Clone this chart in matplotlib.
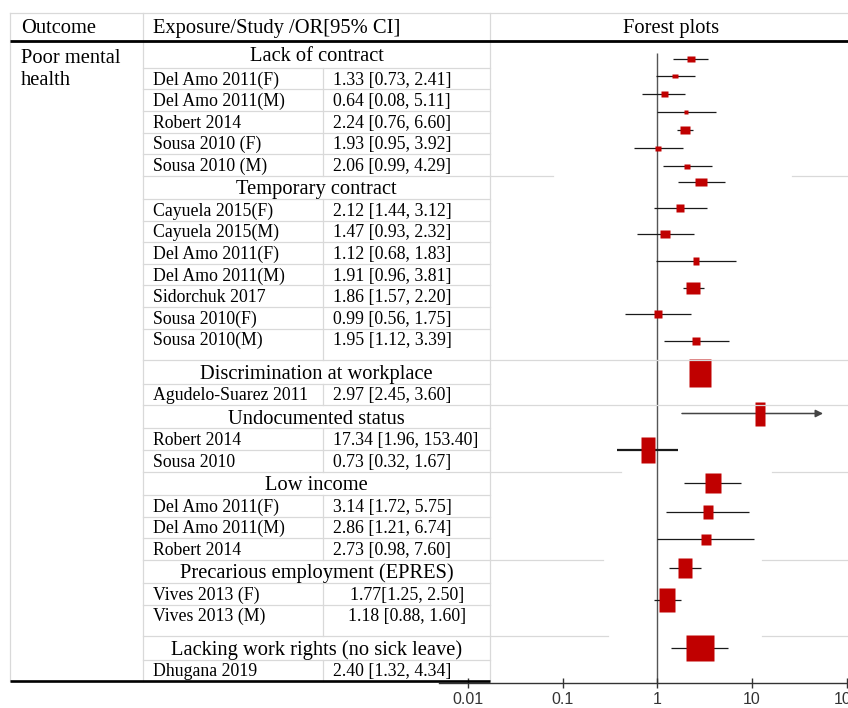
import matplotlib.pyplot as plt

plt.rcParams['font.family'] = ['Liberation Serif', 'DejaVu Serif']

W, H = 848, 708

# table content
groups = ["Lack of contract", "Temporary contract", "Discrimination at workplace",
          "Undocumented status", "Low income", "Precarious employment (EPRES)",
          "Lacking work rights (no sick leave)"]
studies = [
    ["Del Amo 2011(F)", "Del Amo 2011(M)", "Robert 2014", "Sousa 2010 (F)", "Sousa 2010 (M)"],
    ["Cayuela 2015(F)", "Cayuela 2015(M)", "Del Amo 2011(F)", "Del Amo 2011(M)",
     "Sidorchuk 2017", "Sousa 2010(F)", "Sousa 2010(M)"],
    ["Agudelo-Suarez 2011"],
    ["Robert 2014", "Sousa 2010"],
    ["Del Amo 2011(F)", "Del Amo 2011(M)", "Robert 2014"],
    ["Vives 2013 (F)", "Vives 2013 (M)"],
    ["Dhugana 2019"],
]
or_ci = [
    ["1.33 [0.73, 2.41]", "0.64 [0.08, 5.11]", "2.24 [0.76, 6.60]", "1.93 [0.95, 3.92]", "2.06 [0.99, 4.29]"],
    ["2.12 [1.44, 3.12]", "1.47 [0.93, 2.32]", "1.12 [0.68, 1.83]", "1.91 [0.96, 3.81]",
     "1.86 [1.57, 2.20]", "0.99 [0.56, 1.75]", "1.95 [1.12, 3.39]"],
    ["2.97 [2.45, 3.60]"],
    ["17.34 [1.96, 153.40]", "0.73 [0.32, 1.67]"],
    ["3.14 [1.72, 5.75]", "2.86 [1.21, 6.74]", "2.73 [0.98, 7.60]"],
    ["1.77[1.25, 2.50]", "1.18 [0.88, 1.60]"],
    ["2.40 [1.32, 4.34]"],
]

# forest plot (pasted figure) values
forest_y = [59, 76, 94, 112, 130, 148, 166, 182, 208, 234, 261, 287.7, 314, 341,
            373, 413.5, 449.5, 483, 512, 539, 568, 600, 648]
est = [2.25, 1.54, 1.17, 2.01, 1.95, 1.02, 2.06, 2.89, 1.74, 1.21, 2.54, 2.38, 1.02, 2.56,
       2.82, 12.1, 0.79, 3.85, 3.41, 3.27, 1.95, 1.26, 2.80]
lo = [1.47, 0.96, 0.69, 0.99, 1.61, 0.57, 1.14, 1.65, 0.92, 0.61, 0.97, 1.87, 0.46, 1.18,
      2.45, 1.82, 0.375, 1.91, 1.24, 0.99, 1.33, 0.92, 1.40]
hi = [3.41, 2.50, 1.96, 4.17, 2.36, 1.87, 3.78, 5.15, 3.32, 2.44, 6.73, 3.09, 2.25, 5.71,
      3.60, 56.2, 1.65, 7.65, 9.29, 10.5, 2.87, 1.77, 5.62]
box_w = [8.7, 5.7, 7, 5, 10.7, 6, 6, 11.7, 8.3, 9.7, 6.7, 14.7, 8.3, 8,
         22, 10.7, 13.3, 17, 11, 10, 15, 15.7, 28]
box_h = [6.3, 4.7, 5.3, 5, 9, 5, 5, 8, 8, 8.3, 7.7, 13, 7.7, 7.7,
         28, 23.3, 26.7, 20, 14.7, 11, 20, 24, 26.7]
arrow_right = [i == 15 for i in range(len(est))]
ci_lw = [1.6 if i == 16 else 0.9 for i in range(len(est))]

xticks = [0.01, 0.1, 1, 10, 100]
xtick_labels = ["0.01", "0.1", "1", "10", "100"]

GRID = '#d9d9d9'
RED = '#c00000'

fig = plt.figure(figsize=(W / 100, H / 100), dpi=100)

# forest axes (log scale), drawn first so the table lines sit on top
ax = fig.add_axes([439.4 / W, 0, (W - 439.4) / W, 1])
ax.set_xscale('log')
ax.set_xlim(0.005, 103)
ax.set_ylim(H, 0)
ax.patch.set_visible(False)
for s in ['top', 'left', 'right']:
    ax.spines[s].set_visible(False)
ax.spines['bottom'].set_position(('data', 682.7))
ax.spines['bottom'].set_color('#333333')
ax.spines['bottom'].set_linewidth(1.0)
ax.yaxis.set_visible(False)
ax.set_xticks(xticks, labels=xtick_labels)
ax.minorticks_off()
ax.tick_params(axis='x', direction='inout', length=7, width=1, color='#333333',
               labelsize=11.5, labelcolor='#333333', pad=3.5)
for lab in ax.get_xticklabels():
    lab.set_family(['Liberation Sans', 'DejaVu Sans'])

ax.vlines(1, min(forest_y) - 6.5, 682.7, color='#555555', lw=1.0, zorder=1)

for i in range(len(est)):
    y = forest_y[i]
    if arrow_right[i]:
        ax.annotate('', xy=(hi[i], y), xytext=(lo[i], y),
                    arrowprops=dict(arrowstyle='-|>', color='#444444', lw=1.1,
                                    mutation_scale=11, shrinkA=0, shrinkB=0))
    else:
        ax.hlines(y, lo[i], hi[i], color='#1a1a1a', lw=ci_lw[i], zorder=2)
    w, h = box_w[i] / 2, box_h[i] / 2
    ax.plot(est[i], y, ls='none',
            marker=[(-w, -h), (w, -h), (w, h), (-w, h), (-w, -h)],
            ms=max(box_w[i], box_h[i]) * 0.72, mfc=RED, mec='none', zorder=3)

# table drawn in pixel coordinates
tab = fig.add_axes([0, 0, 1, 1])
tab.set_xlim(0, W)
tab.set_ylim(H, 0)
tab.axis('off')
tab.patch.set_visible(False)
tab.set_zorder(2)

x_left, x_c1, x_c2, x_c3 = 10, 143.3, 323.3, 490
top, head_line = 13, 41.3
hdr_h, row_h, first_extra, tall_extra = 23.3, 21.6, 3.1, 10
tall_groups = {1, 5}
gaps = [(553, 792), None, None, (621, 772), (603, 762), (608, 762)]

HFS, SFS = 14.8, 12.8

tab.text(21, 32.7, "Outcome", fontsize=HFS, va='baseline')
tab.text(152.7, 32.7, "Exposure/Study /OR[95% CI]", fontsize=HFS, va='baseline')
tab.text(671, 32.7, "Forest plots", fontsize=HFS, va='baseline', ha='center')
tab.text(21, 63.3, "Poor mental", fontsize=HFS, va='baseline')
tab.text(21, 85.3, "health", fontsize=HFS, va='baseline')

y = head_line
for g, title in enumerate(groups):
    hh = hdr_h + (first_extra if g == 0 else 0)
    tab.text((x_c1 + x_c3) / 2, y + hh / 2 + 6.8, title, fontsize=HFS,
             va='baseline', ha='center')
    y += hh
    tab.plot([x_c1, x_c3], [y, y], color=GRID, lw=0.9)
    rows_top = y
    n = len(studies[g])
    for k in range(n):
        rh = row_h + (tall_extra if (g in tall_groups and k == n - 1) else 0)
        tab.text(152.7, y + row_h / 2 + 6, studies[g][k], fontsize=SFS, va='baseline')
        if g == 5:
            tab.text((x_c2 + x_c3) / 2, y + row_h / 2 + 6, or_ci[g][k], fontsize=SFS,
                     va='baseline', ha='center')
        else:
            tab.text(333.3, y + row_h / 2 + 6, or_ci[g][k], fontsize=SFS, va='baseline')
        y += rh
        if k < n - 1:
            tab.plot([x_c1, x_c3], [y, y], color=GRID, lw=0.9)
    tab.plot([x_c2, x_c2], [rows_top, y], color=GRID, lw=0.9)
    if g < len(groups) - 1:
        gap = gaps[g]
        if gap is None:
            tab.plot([x_c1, W], [y, y], color=GRID, lw=0.9)
        else:
            tab.plot([x_c1, gap[0]], [y, y], color=GRID, lw=0.9)
            tab.plot([gap[1], W], [y, y], color=GRID, lw=0.9)
bottom = y

tab.plot([x_left, W], [top, top], color=GRID, lw=0.9)
for xv in (x_left, x_c1, x_c3):
    tab.plot([xv, xv], [top, bottom], color=GRID, lw=0.9)
tab.plot([x_left, W], [head_line, head_line], color='black', lw=2.0, solid_capstyle='butt')
tab.plot([x_left, x_c3], [bottom, bottom], color='black', lw=1.9, solid_capstyle='butt')

plt.savefig("out.png", dpi=100)
plt.close()
